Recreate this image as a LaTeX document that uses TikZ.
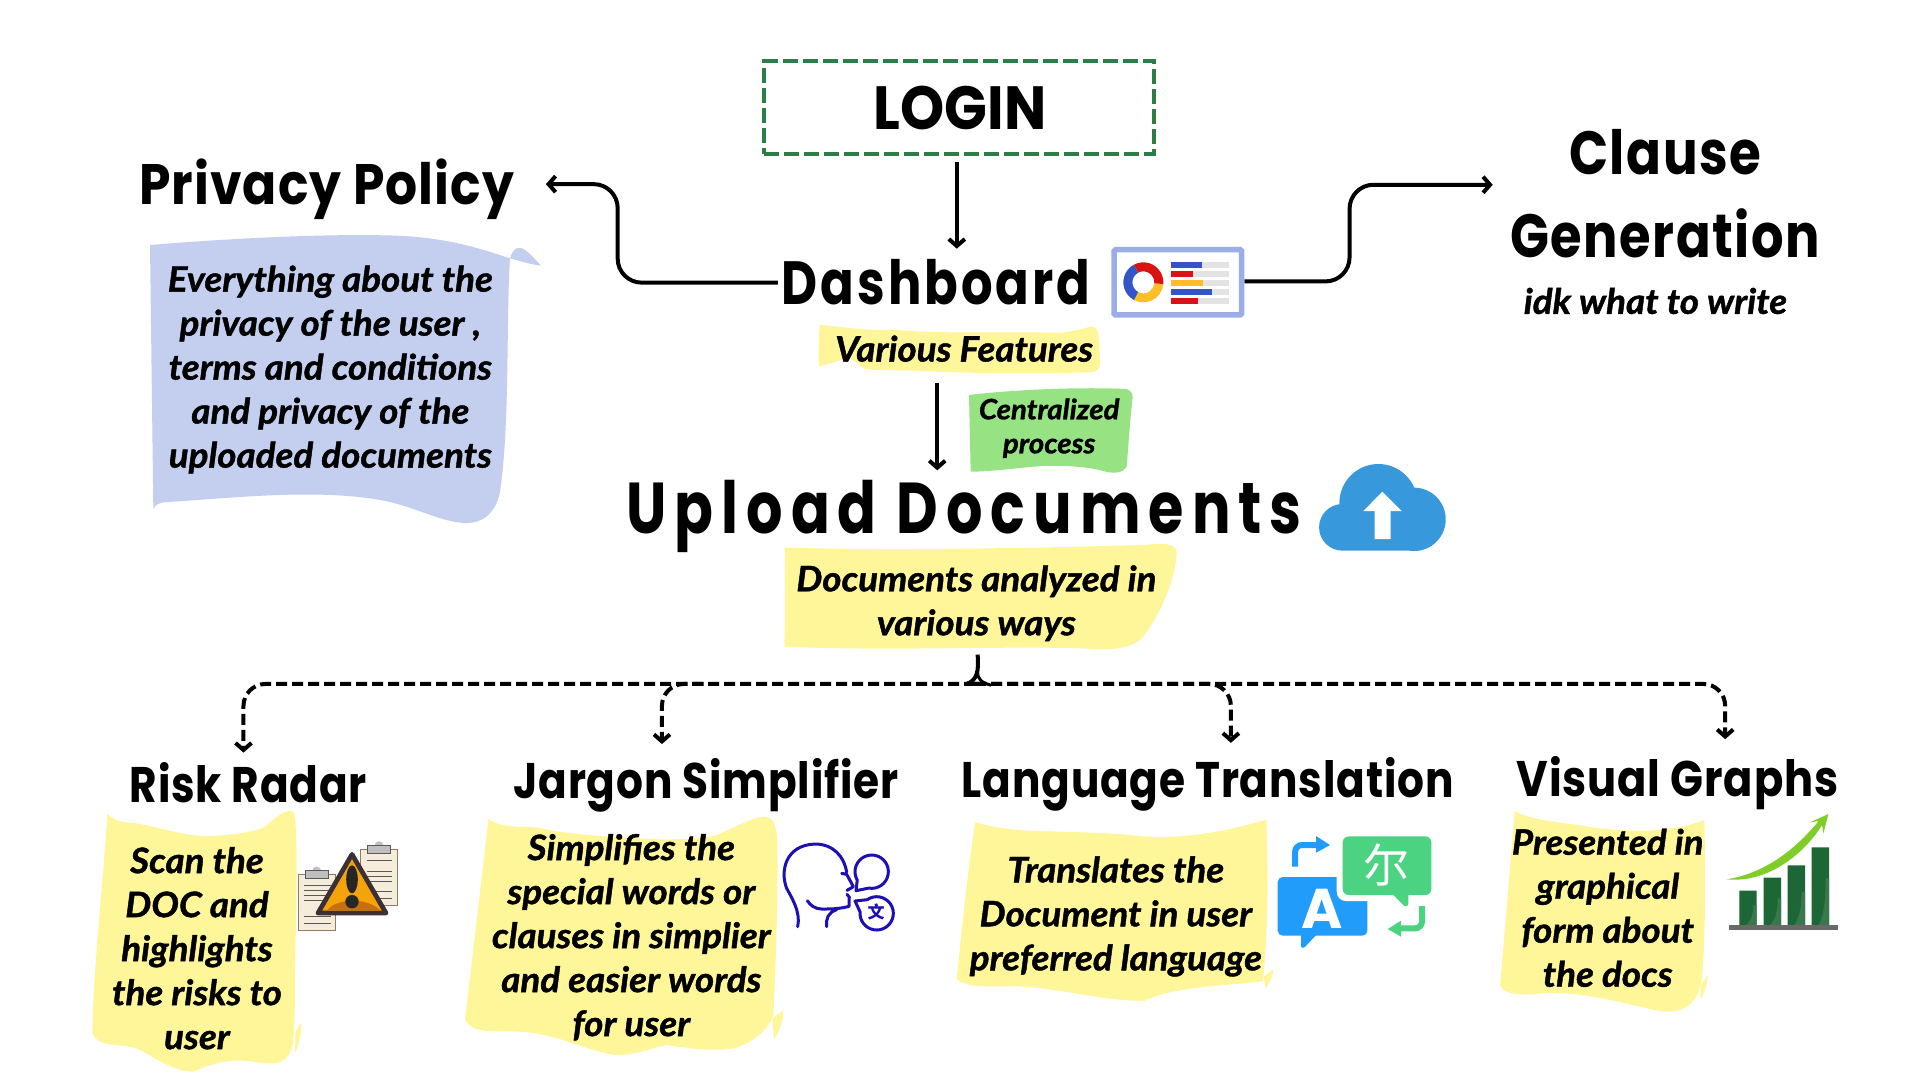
\documentclass[tikz,border=0pt]{standalone}
\usepackage{fontspec}
\usepackage{graphicx}
\usetikzlibrary{arrows.meta}
\newfontfamily\headf{Poppins}
\newfontfamily\bodyf{Lato}[FakeStretch=1.05,BoldItalicFeatures={FakeBold=1.2}]
\newfontfamily\cjkf{Noto Sans CJK SC}
\newdimen\U \U=1.2235pt
\definecolor{ylw}{HTML}{FFF699}
\definecolor{blu}{HTML}{C4CFF0}
\definecolor{grn}{HTML}{97E283}
\definecolor{lgn}{HTML}{2D7D46}
\definecolor{hdb}{HTML}{1C0FB5}
\definecolor{rdc}{HTML}{D91313}
\definecolor{bdc}{HTML}{3355C8}
\definecolor{odc}{HTML}{FCBF2A}
\definecolor{clb}{HTML}{3898DC}
\definecolor{trb}{HTML}{219CFA}
\definecolor{trg}{HTML}{4BD382}
\definecolor{bar}{HTML}{1D6635}
\definecolor{swo}{HTML}{7FCD26}
\definecolor{pap}{HTML}{F6ECDC}
\definecolor{pae}{HTML}{967869}
\definecolor{wdk}{HTML}{3C3034}
\newcommand\hd[4]{{\headf\bfseries\fontsize{#2}{#2}\selectfont\addfontfeature{LetterSpace=#3}\resizebox{#1\U}{\height}{#4}}}
\tikzset{
  head/.style={inner sep=0pt,text height=#1,text depth=0pt},
  body/.style={inner sep=0pt,align=center,font=\bodyf\bfseries\itshape\fontsize{35}{44}\selectfont},
  conn/.style={draw=black,line width=4pt,-{Straight Barb[length=7pt,width=16pt]}},
  dashc/.style={conn,dash pattern=on 11pt off 5pt,rounded corners=22pt},
  paper/.style={fill=#1,draw=none},
}
\begin{document}
\begin{tikzpicture}[x=1.2235pt,y=-1.2235pt]
\useasboundingbox[fill=white] (0,0) rectangle (1569.23,882.7);
% privacy paper
\begin{scope}[shift={(130pt,-225pt)},x=.3333pt,y=-.3333pt]
\fill[paper=blu] (60,60) .. controls (300,40) and (600,25) .. (800,32) .. controls (950,38) and (1050,70) .. (1140,100) .. controls (1150,70) and (1165,60) .. (1185,75) .. controls (1205,90) and (1220,108) .. (1233,122) .. controls (1200,118) and (1170,108) .. (1140,100) .. controls (1128,300) and (1140,600) .. (1110,800) .. controls (1095,880) and (1040,900) .. (990,893) .. controls (920,885) and (840,840) .. (750,825) .. controls (550,790) and (300,820) .. (100,832) .. controls (85,835) and (75,840) .. (70,852) -- cycle;
\end{scope}
% middle papers
\begin{scope}[shift={(760pt,-320pt)},x=.3333pt,y=-.3333pt]
\fill[paper=ylw] (178,15) .. controls (250,20) and (330,35) .. (400,28) .. controls (500,42) and (700,35) .. (900,38) .. controls (950,35) and (980,20) .. (1000,20) .. controls (1015,25) and (1018,40) .. (1020,130) .. controls (1018,150) and (1010,156) .. (985,157) .. controls (800,162) and (600,160) .. (470,152) .. controls (400,150) and (330,152) .. (310,145) .. controls (280,120) and (270,110) .. (250,118) -- (178,140) .. controls (172,100) and (178,60) .. (178,15) -- cycle;
\fill[paper=grn] (627,225) .. controls (750,210) and (950,200) .. (1100,207) .. controls (1112,212) and (1118,220) .. (1118,232) .. controls (1110,300) and (1105,380) .. (1100,440) .. controls (1090,458) and (1070,460) .. (1040,456) .. controls (990,440) and (920,436) .. (850,438) .. controls (780,442) and (700,455) .. (632,455) -- cycle;
\fill[paper=ylw] (75,683) .. controls (400,692) and (800,685) .. (1150,675) .. controls (1210,668) and (1245,670) .. (1250,695) .. controls (1250,760) and (1210,870) .. (1150,950) .. controls (1120,985) and (1060,990) .. (1000,987) .. controls (800,975) and (400,995) .. (74,980) -- cycle;
\end{scope}
% risk paper
\begin{scope}[shift={(80pt,-800pt)},x=.3333pt,y=-.3333pt]
\fill[paper=ylw] (82,40) .. controls (100,60) and (120,68) .. (160,68) .. controls (250,85) and (320,110) .. (390,108) .. controls (460,105) and (530,95) .. (555,80) .. controls (590,50) and (620,25) .. (640,35) .. controls (655,60) and (650,300) .. (645,500) .. controls (645,600) and (645,680) .. (638,735) .. controls (625,790) and (590,795) .. (540,788) .. controls (480,778) and (430,775) .. (340,815) .. controls (280,815) and (220,770) .. (180,750) .. controls (130,725) and (60,750) .. (37,700) .. controls (40,500) and (70,250) .. (82,40) -- cycle;
\fill[paper=ylw] (663,668) .. controls (666,700) and (655,740) .. (645,758) .. controls (647,730) and (645,700) .. (647,695) -- cycle;
\end{scope}
% jargon paper
\begin{scope}[shift={(460pt,-810pt)},x=.3333pt,y=-.3333pt]
\fill[paper=ylw] (85,28) .. controls (120,50) and (160,50) .. (230,52) .. controls (330,75) and (440,80) .. (600,88) .. controls (680,88) and (740,85) .. (770,75) .. controls (830,50) and (880,20) .. (915,20) .. controls (945,25) and (950,50) .. (952,100) .. controls (955,300) and (945,500) .. (940,620) .. controls (920,660) and (880,700) .. (820,715) .. controls (770,725) and (680,715) .. (620,705) .. controls (590,710) and (530,735) .. (470,735) .. controls (400,730) and (290,670) .. (180,665) .. controls (100,660) and (40,675) .. (15,628) .. controls (30,500) and (60,250) .. (85,28) -- cycle;
\fill[paper=ylw] (970,600) .. controls (970,640) and (955,670) .. (942,688) .. controls (940,660) and (938,640) .. (938,625) -- cycle;
\end{scope}
% other lower papers
\fill[paper=ylw] (797,672) .. controls (830,682) and (860,678) .. (920,682) .. controls (960,688) and (1000,680) .. (1035,670) .. controls (1037,720) and (1036,770) .. (1032,802) .. controls (1000,806) and (960,806) .. (935,818) .. controls (900,818) and (870,808) .. (830,806) .. controls (810,806) and (790,808) .. (782,800) .. controls (786,760) and (790,720) .. (797,672) -- cycle;
\fill[paper=ylw] (1041,792) .. controls (1040,798) and (1038,803) .. (1034,808) -- (1033,798) -- cycle;
\fill[paper=ylw] (1238,663) .. controls (1255,672) and (1280,672) .. (1300,676) .. controls (1340,682) and (1375,678) .. (1393,670) .. controls (1394,720) and (1394,780) .. (1390,805) .. controls (1385,825) and (1370,830) .. (1350,825) .. controls (1320,818) and (1290,810) .. (1260,812) .. controls (1240,814) and (1228,812) .. (1226,805) .. controls (1230,760) and (1234,710) .. (1238,663) -- cycle;
\fill[paper=ylw] (1396,797) .. controls (1395,805) and (1393,812) .. (1390,817) -- (1390,805) -- cycle;
% nodes
\node[draw=lgn,line width=4pt,dash pattern=on 15pt off 5pt,minimum width=319\U,minimum height=76\U,inner sep=0pt] (login) at (784,88) {\hspace{1.5pt}\hd{141}{61}{0}{LOGIN}};
\node[head=43pt] (dash) at (765,231) {\hd{252}{61}{6}{Dashboard}};
\node[head=40pt] (priv) at (267,150.5) {\hd{306}{57}{2}{Privacy Policy}};
\node[head=43pt] (clause) at (1361,125) {\hd{157}{61}{3}{Clause}};
\node[head=43pt] (gen) at (1361,193) {\hd{253}{61}{3}{Generation}};
\node[head=50pt] (upload) at (788,416) {\hd{552}{72}{14}{Upload Documents}};
\node[head=36pt] (risk) at (203,641) {\hd{194}{50}{2}{Risk Radar}};
\node[head=36pt] (jargon) at (577,638) {\hd{315}{50}{2}{Jargon Simplifier}};
\node[head=36pt] (lang) at (987,637) {\hd{402}{50}{2}{Language Translation}};
\node[head=36pt] (vis) at (1371,636) {\hd{263}{50}{2}{Visual Graphs}};
\node[body] (t1) at (270,302) {Everything about the\\privacy of the user ,\\terms and conditions\\and privacy of the\\uploaded documents};
\node[body] (t2) at (1353,246) {idk what to write};
\node[body] (t3) at (788,285) {Various Features};
\node[body,font=\bodyf\bfseries\itshape\fontsize{28}{34}\selectfont] (t4) at (857.5,350) {Centralized\\process};
\node[body] (t5) at (798,493) {Documents analyzed in\\various ways};
\node[body] (t6) at (161,775) {Scan the\\DOC and\\highlights\\the risks to\\user};
\node[body] (t7) at (516,766) {Simplifies the\\special words or\\clauses in simplier\\and easier words\\for user};
\node[body] (t8) at (912,749) {Translates the\\Document in user\\preferred language};
\node[body] (t9) at (1314,742) {Presented in\\graphical\\form about\\the docs};
% connectors
\draw[conn] ([shift={(-2,5)}]login.south) -- ([shift={(17,-10)}]dash.north);
\draw[conn,rounded corners=24pt] ([xshift=-3\U]dash.west) -- ++(-131,0) |- ([shift={(26,0)}]priv.east);
\draw[conn,rounded corners=24pt] (1017,230) -- ++(86,0) |- (1220,151);
\coordinate (up1) at (766,313);
\draw[conn] (up1) -- ([shift={(-22,-11)}]upload.north);
\coordinate (hub) at (797,559);
\coordinate (jb) at (575,559);
\coordinate (lb) at (985,559);
\draw[dashc] (hub) -| ([shift={(-4,-11)}]risk.north);
\draw[dashc] (jb) -| ([shift={(-36,-15)}]jargon.north);
\draw[dashc] (hub) -| ([shift={(19,-15)}]lang.north);
\draw[dashc] (hub) -| ([shift={(39,-17)}]vis.north);
\draw[line width=4pt] (799,535) .. controls (800,548) and (799,556) .. (790,559);
\draw[line width=3pt] (799,549) .. controls (799,555) and (802,558) .. (810,560);
% dashboard icon
\begin{scope}[shift={(1050pt,-220pt)},x=.3333pt,y=-.3333pt]
\draw[draw={rgb,255:red,155;green,173;blue,230},line width=5.5pt,fill=white,rounded corners=1.5pt] (192,89) rectangle (575,285);
\foreach \yy in {135,162,190,217,244}{\fill[gray!22] (363,\yy-9) rectangle (538,\yy+9);}
\fill[rdc] (363,153) rectangle (428,171);
\fill[rdc] (363,235) rectangle (444,253);
\fill[bdc] (363,126) rectangle (455,144);
\fill[bdc] (363,208) rectangle (485,226);
\fill[odc] (363,181) rectangle (460,199);
\fill[odc] (280,187) ++(5:60) arc[start angle=5,end angle=118,radius=60] -- ++(-62:27) arc[start angle=118,end angle=5,radius=33] -- cycle;
\fill[bdc] (280,187) ++(118:60) arc[start angle=118,end angle=242,radius=60] -- ++(62:27) arc[start angle=242,end angle=118,radius=33] -- cycle;
\fill[rdc] (280,187) ++(242:60) arc[start angle=242,end angle=365,radius=60] -- ++(185:27) arc[start angle=365,end angle=242,radius=33] -- cycle;
\end{scope}
% cloud
\begin{scope}[shift={(1300pt,-440pt)},x=.3333pt,y=-.3333pt]
\fill[clb] (127,262) circle[radius=23.3pt] (235,189) circle[radius=39pt] (342,238) circle[radius=31.7pt] (127,225) rectangle (342,332);
\fill[white] (247,155) -- (305,213) -- (272,213) -- (272,297) -- (224,297) -- (224,213) -- (190,213) -- cycle;
\end{scope}
% warning
\begin{scope}[shift={(290pt,-835pt)},x=.3333pt,y=-.3333pt]
\fill[pap,draw=pae,line width=.7pt] (211,42) rectangle (323,212);
\fill[pap,draw=pae,line width=.7pt] (25,118) rectangle (137,285);
\fill[gray!50] (267,32) circle[radius=4.5pt] (80,108) circle[radius=4.5pt];
\fill[gray!50,draw=gray!70!black,line width=.6pt] (232,32) rectangle (302,56);
\fill[gray!50,draw=gray!70!black,line width=.6pt] (46,105) rectangle (116,131);
\foreach \yy in {75,110,125,140,170,190}{\draw[gray!70!black,line width=1pt] (230,\yy) -- (305,\yy);}
\foreach \yy in {150,165,182,197,243,265}{\draw[gray!70!black,line width=1pt] (42,\yy) -- (122,\yy);}
\draw[fill={rgb,255:red,245;green,163;blue,11},draw=wdk,line width=4.7pt,line join=round] (186,58) -- (288,234) -- (84,234) -- cycle;
\fill[fill={rgb,255:red,200;green,110;blue,15}] (112,225) .. controls (140,190) and (230,185) .. (272,227) -- cycle;
\fill[gray!30!black] (186,133) ellipse[x radius=5.8pt,y radius=14pt];
\fill[gray!30!black] (186,200) circle[radius=6.7pt];
\end{scope}
% head
\begin{scope}[shift={(775pt,-835pt)},x=.3333pt,y=-.3333pt]
\draw[hdb,line width=3pt,line cap=round,line join=round] (68,275) .. controls (78,230) and (48,185) .. (35,160) .. controls (15,110) and (30,30) .. (120,27) .. controls (175,27) and (208,65) .. (215,112) (200,115) -- (215,118) -- (235,155) -- (216,166) (216,178) -- (224,188) (222,190) -- (222,214) .. controls (190,222) and (170,222) .. (140,222) .. controls (120,222) and (105,210) .. (97,197) (185,224) .. controls (160,232) and (152,250) .. (155,275);
\draw[hdb,line width=3pt,line join=round] (290,110) ++(100:50) arc[start angle=100,end angle=-210,radius=50] -- (243,167) -- cycle;
\draw[hdb,line width=3pt,line join=round] (305,235) ++(-125:50) arc[start angle=-125,end angle=185,radius=50] -- (240,198) -- cycle;
\node[inner sep=0pt,text=hdb,font=\cjkf\bfseries\fontsize{17}{17}\selectfont] (wen) at (303,232) {文};
\end{scope}
% translation
\begin{scope}[shift={(1270pt,-825pt)},x=.3333pt,y=-.3333pt]
\fill[trb,rounded corners=5pt] (23,156) rectangle (292,332);
\fill[trb,rounded corners=1pt] (93,325) -- (93,368) -- (103,368) -- (140,328) -- cycle;
\fill[white,rounded corners=9pt] (200,16) rectangle (502,228);
\fill[trg,rounded corners=6pt] (218,34) rectangle (484,210);
\fill[trg,rounded corners=1pt] (365,205) -- (405,245) -- (415,240) -- (415,205) -- cycle;
\node[inner sep=0pt,text=white,font=\headf\bfseries\fontsize{56}{56}\selectfont] (aa) at (157,250) {A};
\node[inner sep=0pt,text=white,font=\cjkf\fontsize{46}{46}\selectfont] (er) at (350,120) {尔};
\draw[draw=trb,line width=6pt,rounded corners=7pt] (75,125) |- (142,60);
\fill[trb] (138,33) -- (180,60) -- (138,83) -- cycle;
\draw[draw=trg,line width=6pt,rounded corners=7pt] (456,243) |- (390,310);
\fill[trg] (393,287) -- (353,312) -- (393,335) -- cycle;
\end{scope}
% graph
\begin{scope}[shift={(1720pt,-805pt)},x=.3333pt,y=-.3333pt]
\fill[bar] (58,257) rectangle (110,360) (131,218) rectangle (183,360) (203,181) rectangle (255,360) (275,127) rectangle (327,360);
\fill[bar!88!white] (100,300) .. controls (100,330) and (90,350) .. (78,360) -- (110,360) -- (110,300) -- cycle;
\fill[bar!88!white] (173,280) .. controls (173,320) and (165,345) .. (150,360) -- (183,360) -- (183,280) -- cycle;
\fill[bar!88!white] (245,260) .. controls (245,310) and (235,345) .. (222,360) -- (255,360) -- (255,260) -- cycle;
\fill[bar!88!white] (317,220) .. controls (317,300) and (307,345) .. (295,360) -- (327,360) -- (327,220) -- cycle;
\fill[fill={rgb,255:red,105;green,105;blue,105}] (28,360) rectangle (355,375);
\fill[swo] (20,223) .. controls (130,205) and (220,140) .. (296,48) -- (270,52) -- (325,27) -- (310,85) -- (306,60) .. controls (250,150) and (140,235) .. (20,223) -- cycle;
\end{scope}
\end{tikzpicture}
\end{document}
